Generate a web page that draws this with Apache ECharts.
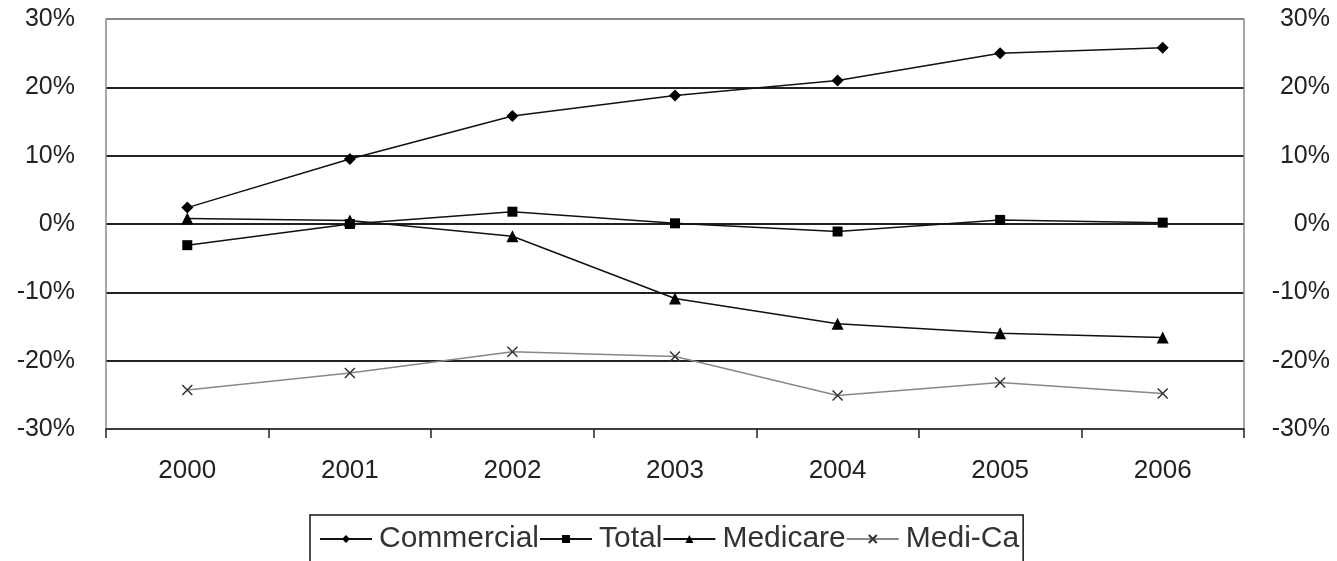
<!DOCTYPE html>
<html>
<head>
<meta charset="utf-8">
<script src="https://cdn.jsdelivr.net/npm/echarts@6/dist/echarts.min.js"></script>
<style>
html, body { margin: 0; padding: 0; background: #fff; }
#chart { width: 1337px; height: 561px; }
</style>
</head>
<body>
<div id="chart"></div>
<script>
var years = ['2000', '2001', '2002', '2003', '2004', '2005', '2006'];
var commercial = [2.4, 9.5, 15.8, 18.8, 21.0, 25.0, 25.8];
var total = [-3.1, 0.0, 1.8, 0.1, -1.1, 0.6, 0.2];
var medicare = [0.8, 0.5, -1.8, -10.9, -14.6, -16.0, -16.6];
var medical = [-24.3, -21.8, -18.7, -19.4, -25.1, -23.2, -24.8];

var font = 'Liberation Sans, Arial, sans-serif';
var crossIcon = 'path://M0,0 L10,10 M10,0 L0,10';

var myChart = echarts.init(document.getElementById('chart'));

function pct(v) {
	return v + '%';
}

function lineSeries(name, data, symbol, size, lineColor) {
	return {
		name: name,
		type: 'line',
		data: data,
		symbol: symbol,
		symbolSize: size,
		showAllSymbol: true,
		animation: false,
		lineStyle: { color: lineColor, width: 1.5 },
		itemStyle: { color: '#000', borderColor: '#000', borderWidth: 0 }
	};
}

var series = [
	lineSeries('Commercial', commercial, 'diamond', 12, '#111'),
	lineSeries('Total', total, 'rect', 10, '#111'),
	lineSeries('Medicare', medicare, 'triangle', 12, '#111'),
	{
		name: 'Medi-Cal',
		type: 'line',
		data: medical,
		symbol: crossIcon,
		symbolSize: 10,
		animation: false,
		lineStyle: { color: '#888', width: 1.5 },
		itemStyle: { color: 'rgba(0,0,0,0)', borderColor: '#333', borderWidth: 1.5 }
	}
];

var yCommon = {
	type: 'value',
	min: -30,
	max: 30,
	interval: 10,
	axisTick: { show: false },
	axisLine: { show: true, lineStyle: { color: '#888', width: 1.5 } },
	axisLabel: {
		formatter: pct,
		fontFamily: font,
		fontSize: 25,
		color: '#222'
	}
};

var option = {
	backgroundColor: '#fff',
	grid: {
		left: 106,
		right: 93,
		top: 19,
		bottom: 132,
		containLabel: false
	},
	legend: {
		left: 310,
		top: 515,
		padding: [9, 4, 9, 9],
		itemGap: 0,
		itemWidth: 52,
		itemHeight: 10,
		borderColor: '#111',
		borderWidth: 1.5,
		formatter: function(name) {
			// the source legend cuts off the last letter
			return name === 'Medi-Cal' ? 'Medi-Ca' : name;
		},
		textStyle: {
			fontFamily: font,
			fontSize: 30,
			color: '#333',
			padding: [0, 0, 0, 2]
		}
	},
	xAxis: {
		type: 'category',
		data: years,
		boundaryGap: true,
		axisLine: { show: true, onZero: false, lineStyle: { color: '#222', width: 1.5 } },
		axisTick: { show: true, inside: false, length: 9, lineStyle: { color: '#222', width: 1.5 } },
		axisLabel: {
			fontFamily: font,
			fontSize: 26,
			color: '#222',
			margin: 29
		}
	},
	yAxis: [
		Object.assign({}, yCommon, {
			position: 'left',
			axisLabel: Object.assign({}, yCommon.axisLabel, { margin: 31 }),
			splitLine: {
				show: true,
				lineStyle: {
					color: ['#888', '#222', '#222', '#222', '#222', '#222'],
					width: 2
				}
			}
		}),
		Object.assign({}, yCommon, {
			position: 'right',
			axisLabel: Object.assign({}, yCommon.axisLabel, { margin: 86, align: 'right' }),
			splitLine: { show: false }
		})
	],
	series: series
};

myChart.setOption(option);
</script>
</body>
</html>
